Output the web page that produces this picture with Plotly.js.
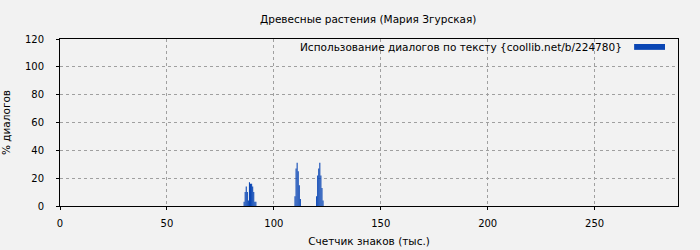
<!DOCTYPE html>
<html>
<head>
<meta charset="utf-8">
<script src="https://cdn.plot.ly/plotly-3.0.1.min.js"></script>
<style>
html,body{margin:0;padding:0;background:#f2f2f2;}
#chart{width:700px;height:250px;}
</style>
</head>
<body>
<div id="chart"></div>
<script>
// Data (x: thousands of characters, y: % dialogues)
const xValues = [
  86.1, 86.6, 87.1, 87.6, 88.1, 88.6, 89.1, 89.6, 90.1, 90.6, 91.1, 91.6,
  109.9, 110.4, 110.9, 111.4, 111.9, 112.4,
  120.0, 120.5, 121.0, 121.5, 122.0, 122.5, 123.0
];
const yValues = [
  3, 10, 14, 10, 4, 17, 16, 16, 14, 10, 3, 3,
  7, 27, 31, 25, 15, 5,
  7, 22, 27, 31, 22, 13, 4
];
const chartTitle = "Древесные растения (Мария Згурская)";
const seriesName = "Использование диалогов по тексту {coollib.net/b/224780}";
const xAxisTitle = "Счетчик знаков (тыс.)";
const yAxisTitle = "% диалогов";
const xTicks = [0, 50, 100, 150, 200, 250];
const yTicks = [0, 20, 40, 60, 80, 100, 120];

const barColor = "#0a46b4";
const fontFam = "DejaVu Sans, sans-serif";

const trace = {
  type: "bar",
  x: xValues,
  y: yValues,
  width: 0.5,
  name: seriesName,
  marker: {color: barColor, line: {width: 0}},
  showlegend: false,
  hoverinfo: "x+y"
};

const axisCommon = {
  showline: true,
  linecolor: "#000",
  linewidth: 1,
  mirror: true,
  ticks: "outside",
  ticklen: 3,
  tickcolor: "#000",
  showgrid: true,
  gridcolor: "#a0a0a0",
  griddash: "dot",
  gridwidth: 1,
  zeroline: false,
  tickfont: {family: fontFam, size: 10, color: "#000"}
};

const layout = {
  width: 700,
  height: 250,
  paper_bgcolor: "#f2f2f2",
  plot_bgcolor: "#f2f2f2",
  margin: {l: 60, r: 22, t: 39, b: 44},
  font: {family: fontFam, size: 10, color: "#000"},
  title: {
    text: chartTitle,
    font: {family: fontFam, size: 10.5, color: "#000"},
    x: 0.526, xanchor: "center",
    y: 0.924, yanchor: "middle"
  },
  xaxis: Object.assign({}, axisCommon, {
    range: [0, 289],
    tickvals: xTicks,
    ticktext: xTicks.map(String),
    ticklabelstandoff: 5,
    title: {text: xAxisTitle, font: {family: fontFam, size: 10.5}, standoff: 9}
  }),
  yaxis: Object.assign({}, axisCommon, {
    range: [0, 120],
    tickvals: yTicks,
    ticktext: yTicks.map(String),
    ticklabelstandoff: 10,
    title: {text: yAxisTitle, font: {family: fontFam, size: 10.5}, standoff: 12}
  }),
  showlegend: false,
  annotations: [{
    xref: "paper", yref: "paper",
    x: 0.912, y: 0.953,
    xanchor: "right", yanchor: "middle",
    text: seriesName,
    showarrow: false,
    font: {family: fontFam, size: 10.5, color: "#000"}
  }],
  shapes: [{
    type: "rect", xref: "paper", yref: "paper",
    x0: 0.929, x1: 0.979, y0: 0.935, y1: 0.97,
    fillcolor: barColor, line: {width: 0}
  }]
};

Plotly.newPlot("chart", [trace], layout, {displayModeBar: false, staticPlot: true});
</script>
</body>
</html>
